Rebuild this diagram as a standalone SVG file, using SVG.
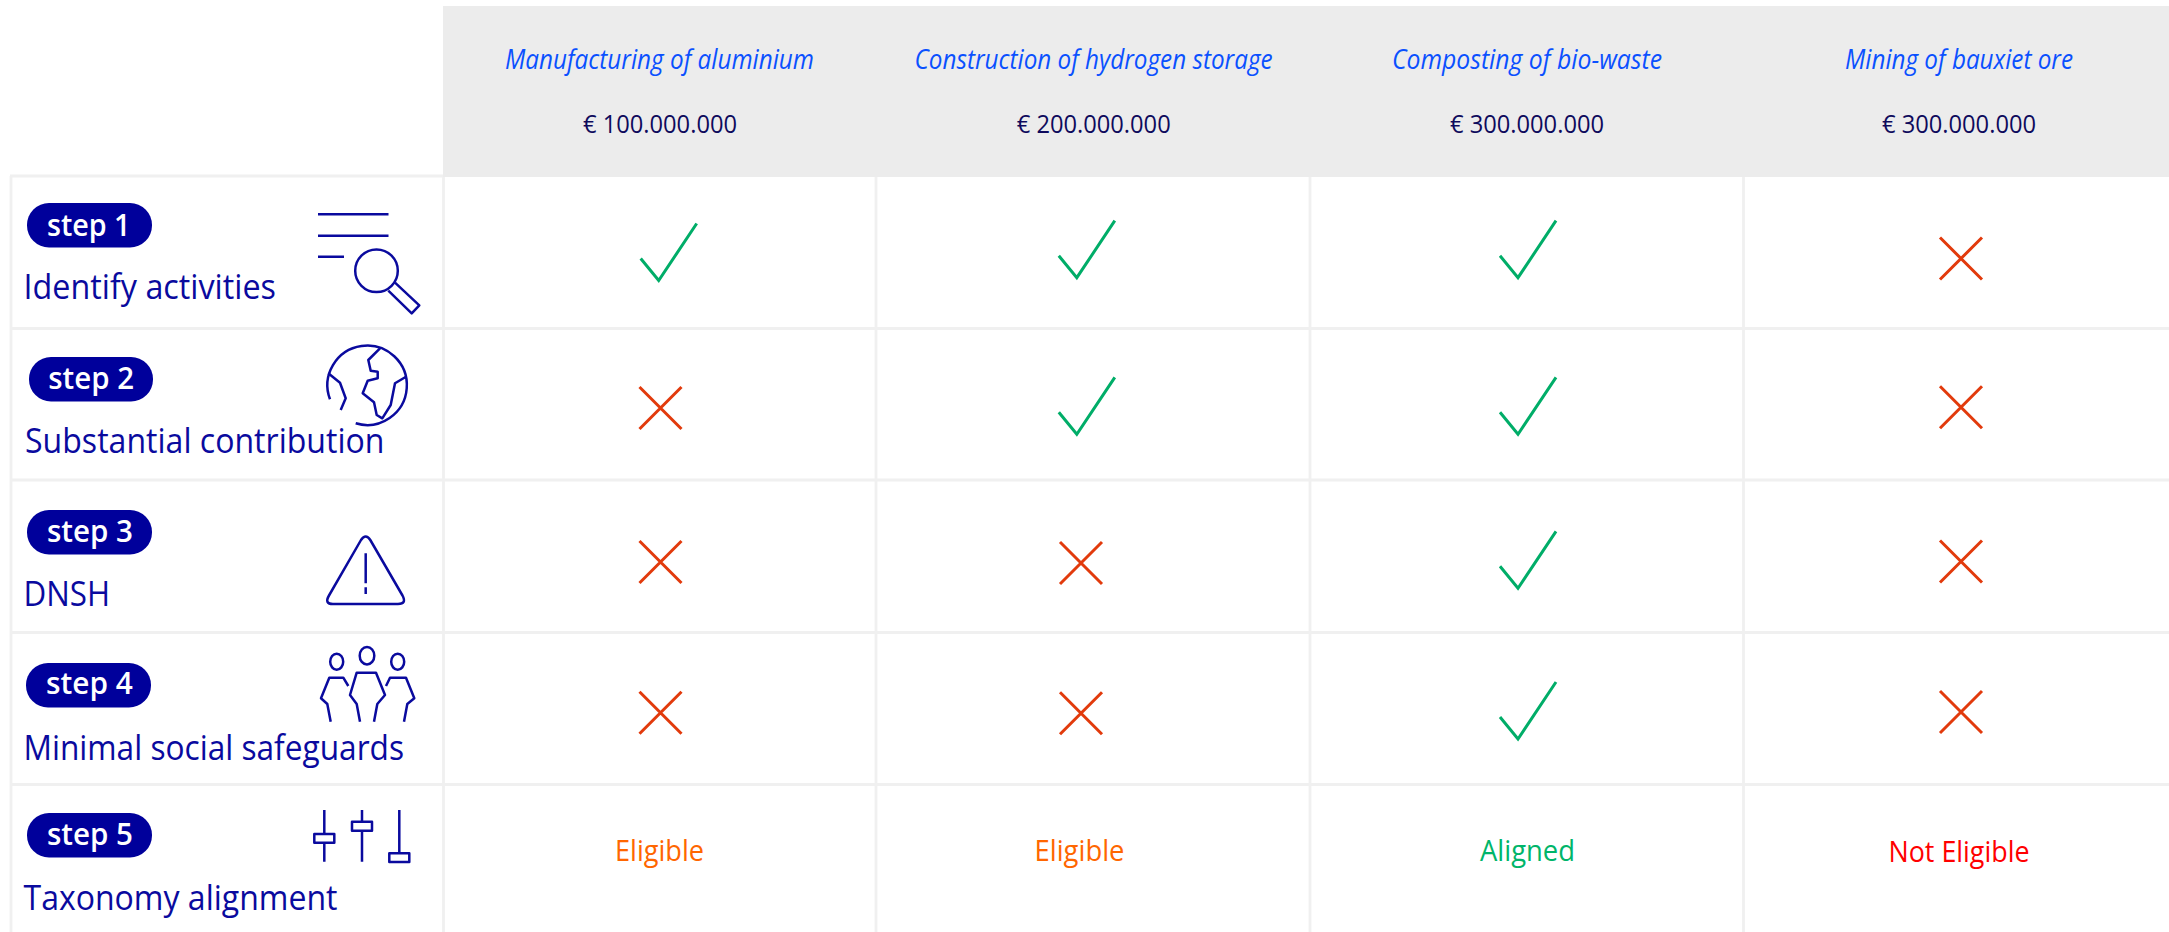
<svg xmlns="http://www.w3.org/2000/svg" width="2169" height="932" viewBox="0 0 2169 932">
<style>
text{font-family:"Open Sans","Liberation Sans",sans-serif}
.grid{stroke:#f0f0f0;stroke-width:2.8;fill:none}
.ico{stroke:#0a0a9e;stroke-width:2.5;fill:none;stroke-linejoin:round}
.pill{fill:#00009b}
.pt{fill:#fff;font-size:31px;font-weight:600}
.lb{fill:#0a0a9e;font-size:35px}
.act{fill:#0a50ff;font-size:28px;font-style:italic}
.amt{fill:#0e0a5c;font-size:26px;font-weight:500}
.res{font-size:29px}
.ok{stroke:#00ad68;stroke-width:3;fill:none;stroke-linejoin:miter}
.no{stroke:#e23a0c;stroke-width:3;fill:none}
</style>
<defs>
<polyline id="chk" class="ok" points="0,0 18,22 56,-35"/>
<path id="x" class="no" d="M-21,-21L21,21M21,-21L-21,21"/>
</defs>
<rect width="2169" height="932" fill="#fff"/>
<g id="header"><rect x="443" y="6" width="1726" height="171" fill="#ececec"/></g>
<g id="grid" class="grid">
<path d="M10,176H443M10,328.5H2169M10,480H2169M10,632.5H2169M10,784.5H2169"/>
<path d="M11,176V932M443.5,177V932M876,177V932M1310,177V932M1743.5,177V932"/>
</g>
<g id="col-1">
<text class="act" x="505" y="69" textLength="309" lengthAdjust="spacingAndGlyphs">Manufacturing of aluminium</text>
<text class="amt" x="583" y="133" textLength="154" lengthAdjust="spacingAndGlyphs">€ 100.000.000</text>
<use href="#chk" x="640.7" y="258.5"/><use href="#x" x="660.5" y="408"/><use href="#x" x="660.5" y="562"/><use href="#x" x="660.5" y="712.7"/>
<text class="res" fill="#ff6600" x="615" y="861" textLength="89" lengthAdjust="spacingAndGlyphs">Eligible</text>
</g>
<g id="col-2">
<text class="act" x="914.6" y="69" textLength="358" lengthAdjust="spacingAndGlyphs">Construction of hydrogen storage</text>
<text class="amt" x="1016.7" y="133" textLength="154" lengthAdjust="spacingAndGlyphs">€ 200.000.000</text>
<use href="#chk" x="1058.8" y="255.7"/><use href="#chk" x="1058.8" y="412.3"/><use href="#x" x="1081" y="563"/><use href="#x" x="1081" y="713.3"/>
<text class="res" fill="#ff6600" x="1034.5" y="861" textLength="90" lengthAdjust="spacingAndGlyphs">Eligible</text>
</g>
<g id="col-3">
<text class="act" x="1392" y="69" textLength="270" lengthAdjust="spacingAndGlyphs">Composting of bio-waste</text>
<text class="amt" x="1450" y="133" textLength="154" lengthAdjust="spacingAndGlyphs">€ 300.000.000</text>
<use href="#chk" x="1500" y="255.7"/><use href="#chk" x="1500" y="412.3"/><use href="#chk" x="1500" y="566.3"/><use href="#chk" x="1500" y="717"/>
<text class="res" fill="#00b56a" x="1480" y="861" textLength="95" lengthAdjust="spacingAndGlyphs">Aligned</text>
</g>
<g id="col-4">
<text class="act" x="1845" y="69" textLength="228" lengthAdjust="spacingAndGlyphs">Mining of bauxiet ore</text>
<text class="amt" x="1882" y="133" textLength="154" lengthAdjust="spacingAndGlyphs">€ 300.000.000</text>
<use href="#x" x="1961" y="258.5"/><use href="#x" x="1961" y="407.3"/><use href="#x" x="1961" y="561.5"/><use href="#x" x="1961" y="712"/>
<text class="res" fill="#ff0000" x="1888.5" y="861.7" textLength="141" lengthAdjust="spacingAndGlyphs">Not Eligible</text>
</g>
<g id="step-1">
<rect class="pill" x="27" y="203" width="125" height="44.5" rx="22"/>
<text class="pt" x="47" y="235.5" textLength="83.5" lengthAdjust="spacingAndGlyphs">step 1</text>
<text class="lb" x="23.5" y="299" textLength="252.5" lengthAdjust="spacingAndGlyphs">Identify activities</text>
<g class="ico"><path d="M318,214.3H388.5M318,235.7H388.5M318,256.7H344"/><circle cx="376.5" cy="270.7" r="21.3"/><path d="M395,282.7L419.3,305.3L411.7,313.3L388.3,290.7"/></g>
</g>
<g id="step-2">
<rect class="pill" x="29" y="357" width="124" height="44.5" rx="22"/>
<text class="pt" x="48.3" y="388.5" textLength="85.7" lengthAdjust="spacingAndGlyphs">step 2</text>
<text class="lb" x="25" y="453" textLength="359.5" lengthAdjust="spacingAndGlyphs">Substantial contribution</text>
<g class="ico"><path d="M330,399.3A39.7,39.7 0 1 1 355.7,423.3"/><path d="M380,348.3L368.3,360L370.7,370.7L377.7,371.7L377.7,378.3L367.7,380.7L362.7,393.3L374,402.3L376.7,415L382.3,418.3L390.7,405L395,383.3L406,376.7"/><path d="M328.3,373.3L340,382.7L345.7,398.3L340.7,410"/></g>
</g>
<g id="step-3">
<rect class="pill" x="27" y="510" width="125" height="44.5" rx="22"/>
<text class="pt" x="47" y="542" textLength="86" lengthAdjust="spacingAndGlyphs">step 3</text>
<text class="lb" x="23.5" y="606" textLength="86.5" lengthAdjust="spacingAndGlyphs">DNSH</text>
<g class="ico"><path d="M361,540Q365.7,533 370.3,540L402.5,595.5Q407,604 398,604L333,604Q324,604 329,595.5Z"/><path d="M365.7,553.3V583.3M365.7,587.3V594"/></g>
</g>
<g id="step-4">
<rect class="pill" x="26" y="663" width="125" height="44.5" rx="22"/>
<text class="pt" x="46" y="694" textLength="86.7" lengthAdjust="spacingAndGlyphs">step 4</text>
<text class="lb" x="23.5" y="760" textLength="380.5" lengthAdjust="spacingAndGlyphs">Minimal social safeguards</text>
<g class="ico"><ellipse cx="336.7" cy="661.7" rx="6.5" ry="8"/><ellipse cx="367" cy="655.7" rx="7.3" ry="8.7"/><ellipse cx="397.7" cy="661.7" rx="6.5" ry="8"/><path d="M348.3,686L343.3,677.7H329.3L321,698.3L327.3,704L330.7,721.7"/><path d="M360,721.7L356.7,704L350,695L356.7,672.7H376L385,695L377.3,704L374,721.7"/><path d="M386,686L390,677.7H406L414.3,698.3L407.3,704L404,721.7"/></g>
</g>
<g id="step-5">
<rect class="pill" x="27" y="813" width="125" height="44.5" rx="22"/>
<text class="pt" x="47" y="845" textLength="86" lengthAdjust="spacingAndGlyphs">step 5</text>
<text class="lb" x="23.5" y="910" textLength="314" lengthAdjust="spacingAndGlyphs">Taxonomy alignment</text>
<g class="ico"><path d="M324.3,810V861.7M362,810V861.7M399.3,810V853.3"/><rect x="314.3" y="834" width="20" height="8.7" fill="#fff"/><rect x="352" y="821.7" width="20" height="9" fill="#fff"/><rect x="389.3" y="853.3" width="20" height="8.7"/></g>
</g>
</svg>
